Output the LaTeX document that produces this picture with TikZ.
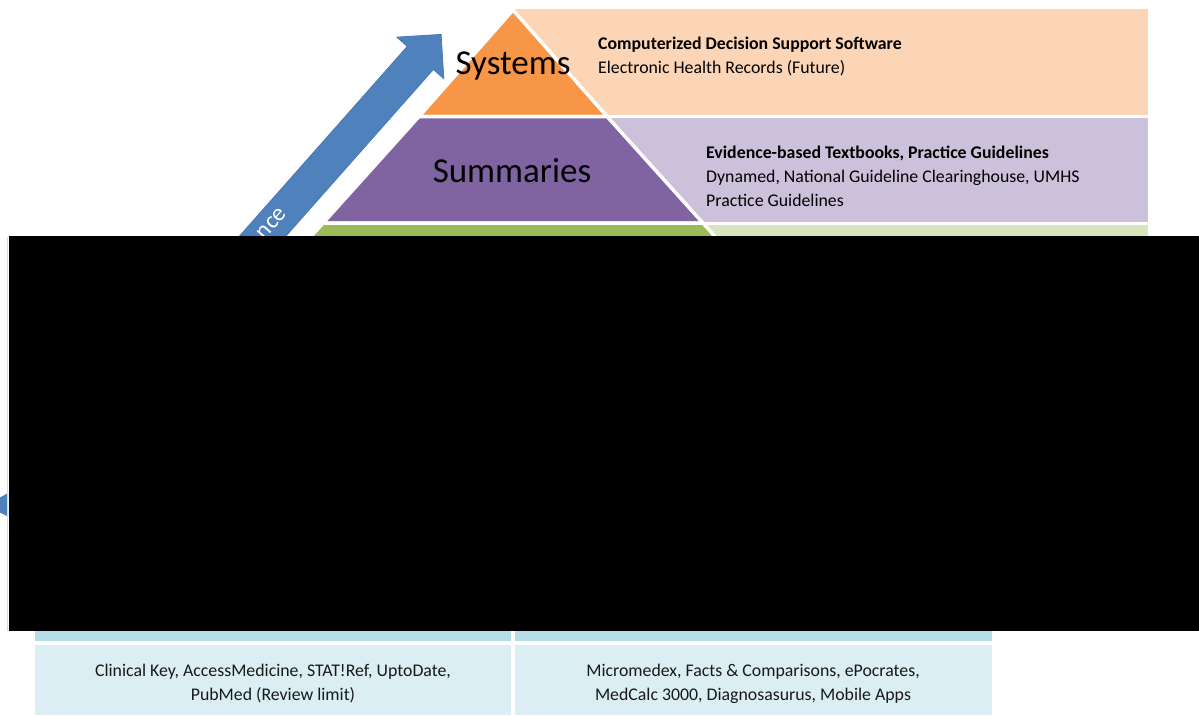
\documentclass[tikz,border=0pt]{standalone}
\usepackage{fontspec}
\setmainfont{Carlito}
\usetikzlibrary{positioning,shapes.arrows}
\definecolor{sysdark}{HTML}{F79646}
\definecolor{syslight}{HTML}{FBD5B5}
\definecolor{sumdark}{HTML}{8064A2}
\definecolor{sumlight}{HTML}{CCC1DA}
\definecolor{syndark}{HTML}{9BBB59}
\definecolor{synlight}{HTML}{D7E4BD}
\definecolor{arrowblue}{HTML}{4F81BD}
\definecolor{arrowedge}{HTML}{4A7AB3}
\definecolor{celldark}{HTML}{B7DEE8}
\definecolor{celllight}{HTML}{DAEEF3}
\begin{document}
\begin{tikzpicture}[x=1pt,y=-1pt]
	\tikzstyle{band} = [draw=white,line width=3pt]
	\tikzstyle{layer} = [draw=white,line width=3.5pt,line join=bevel]
	\tikzstyle{title} = [inner sep=0pt,font=\fontsize{35}{40}\selectfont]
	\tikzstyle{info} = [inner sep=0pt,anchor=west,align=left,font=\fontsize{17.8}{24}\selectfont]
	\tikzstyle{cell} = [inner sep=0pt,align=center,text=black!90,font=\fontsize{17.8}{24}\selectfont]
	
	\useasboundingbox[fill=white] (0,0) rectangle (1199,715);
	
	\path[band,fill=syslight] (513,7.5) rectangle (1149.5,116.5);
	\path[band,fill=sumlight] (513,116.5) rectangle (1149.5,223);
	\path[band,fill=synlight] (513,223) rectangle (1149.5,260);
	
	\path[layer,fill=sysdark] (513,10) -- (607.05,116.5) -- (418.95,116.5) -- cycle;
	\path[layer,fill=sumdark] (418.95,116.5) -- (607.05,116.5) -- (702.9,223) -- (323.1,223) -- cycle;
	\path[layer,fill=syndark] (323.1,223) -- (702.9,223) -- (736.2,260) -- (289.8,260) -- cycle;
	
	\node[title] (systems) at (513,66) {Systems};
	\node[title] (summaries) at (512,171) {Summaries};
	\node[info] (systxt) at (598,56) {\textbf{Computerized Decision Support Software}\\Electronic Health Records (Future)};
	\node[info] (sumtxt) at (706,176) {\textbf{Evidence-based Textbooks, Practice Guidelines}\\Dynamed, National Guideline Clearinghouse, UMHS\\Practice Guidelines};
	
	\node[single arrow,rotate=48.5,anchor=tip,fill=arrowblue,draw=arrowedge,line width=0.8pt,
		minimum height=490pt,single arrow head extend=14pt,inner xsep=2pt,inner ysep=9.5pt,
		text height=12pt,text depth=3pt,text=white,font=\fontsize{24}{24}\selectfont] (quality) at (441.5,34) {nce};
	
	\fill[arrowblue] (0,497.5) -- (8,493) -- (8,516.5) -- (0,512.5) -- cycle;
	\draw[black!15,line width=1pt] (7,237) -- (7,631);
	
	\fill[celldark] (35,600) rectangle (511,641);
	\fill[celldark] (515,600) rectangle (992,641);
	\fill[celllight] (35,645) rectangle (511,715);
	\fill[celllight] (515,645) rectangle (992,715);
	\node[cell] (toolsleft) at (273,684) {Clinical Key, AccessMedicine, STAT!Ref, UptoDate,\\PubMed (Review limit)};
	\node[cell] (toolsright) at ([xshift=480pt]toolsleft.center) {Micromedex, Facts \& Comparisons, ePocrates,\\MedCalc 3000, Diagnosasurus, Mobile Apps};
	
	\fill[black] (9,236) rectangle (1199,631);
	
\end{tikzpicture}
\end{document}
